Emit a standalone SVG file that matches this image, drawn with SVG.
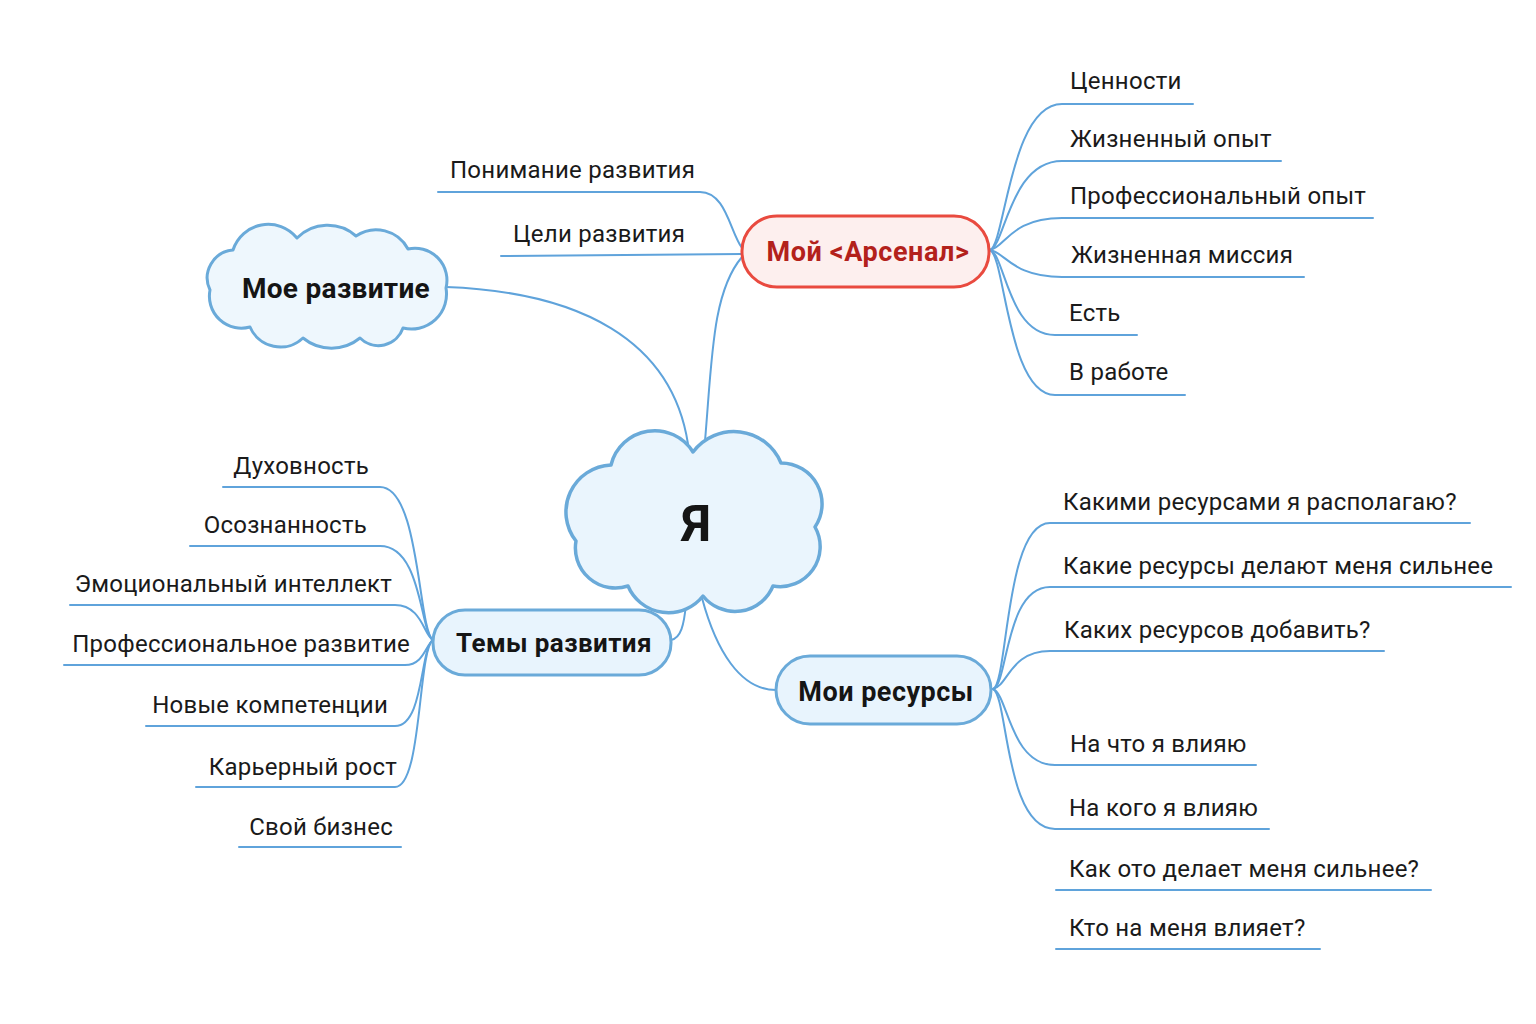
<svg xmlns="http://www.w3.org/2000/svg" width="1536" height="1024" viewBox="0 0 1536 1024">
<style>
.bg{fill:#ffffff}
.cloud{fill:#eaf5fd;stroke:#6aaad9;stroke-width:3.5;stroke-linejoin:round}
.pill{fill:#e8f4fd;stroke:#6aaad9;stroke-width:3}
.red{fill:#fdefee;stroke:#e94a3f;stroke-width:3}
.ln{fill:none;stroke:#5fa3db;stroke-width:2;stroke-linecap:round}
.t{font-family:Roboto,"Liberation Sans",sans-serif;font-size:24px;letter-spacing:0.25px;fill:#1a1a1a}
.b{font-family:Roboto,"Liberation Sans",sans-serif;font-weight:bold;fill:#151515;text-anchor:middle}
.e{text-anchor:end}
</style>
<rect class="bg" x="0" y="0" width="1536" height="1024"/>

<g id="connectors">
  <path class="ln" d="M446,287 C580,292 672,340 688,444"/>
  <path class="ln" d="M705,441 C712,360 712,292 742,257"/>
  <path class="ln" d="M686,604 C684,625 681,638 671,640"/>
  <path class="ln" d="M702,598 C716,650 740,690 776,690"/>
  <path class="ln" d="M438,192 L700,192 C726,192 730,232 742,248"/>
  <path class="ln" d="M501,256 L742,254"/>
  <path class="ln" d="M990,250 C1005,245 1010,104 1062,104 L1193,104"/>
  <path class="ln" d="M990,250 C1005,246 1010,161 1062,161 L1281,161"/>
  <path class="ln" d="M990,250 C1005,248 1010,218 1062,218 L1373,218"/>
  <path class="ln" d="M990,250 C1005,252 1012,277 1062,277 L1304,277"/>
  <path class="ln" d="M990,250 C1005,254 1008,335 1055,335 L1137,335"/>
  <path class="ln" d="M990,250 C1005,256 1008,395 1055,395 L1185,395"/>
  <path class="ln" d="M993,689 C1008,684 1005,523 1050,523 L1470,523"/>
  <path class="ln" d="M993,689 C1008,685 1005,587 1050,587 L1511,587"/>
  <path class="ln" d="M993,689 C1008,686 1010,651 1050,651 L1384,651"/>
  <path class="ln" d="M993,689 C1008,694 1010,765 1055,765 L1256,765"/>
  <path class="ln" d="M993,689 C1008,696 1005,829 1055,829 L1269,829"/>
  <path class="ln" d="M1056,890 L1431,890"/>
  <path class="ln" d="M1056,949 L1320,949"/>
  <path class="ln" d="M433,640 C418,630 420,487 380,487 L223,487"/>
  <path class="ln" d="M433,640 C420,632 422,546 380,546 L190,546"/>
  <path class="ln" d="M433,640 C424,636 422,605 395,605 L70,605"/>
  <path class="ln" d="M433,640 C426,644 424,665 405,665 L64,665"/>
  <path class="ln" d="M433,640 C420,648 424,726 395,726 L146,726"/>
  <path class="ln" d="M433,640 C418,650 422,787 395,787 L196,787"/>
  <path class="ln" d="M239,847 L401,847"/>
</g>

<g id="node-me">
  <path class="cloud" d="M693,452 A45,45 0 0 0 611,465 A47,47 0 0 0 576,541 A40,40 0 0 0 628,586 A44,44 0 0 0 703,596 A41,41 0 0 0 773,586 A40,40 0 0 0 815,527 A41,41 0 0 0 781,463 A51,51 0 0 0 693,452 Z"/>
  <text class="b" x="696" y="541" font-size="50">Я</text>
</g>

<g id="node-my-development">
  <path class="cloud" style="fill:#eef7fd;stroke-width:3" d="M233,250 A37,37 0 0 1 297,238 A43,43 0 0 1 356,236 A36,36 0 0 1 408,249 A32,32 0 0 1 446,288 A35,35 0 0 1 403,328 A26,26 0 0 1 360,338 A45,45 0 0 1 303,338 A33,33 0 0 1 250,327 A32,32 0 0 1 210,290 A28,28 0 0 1 233,250 Z"/>
  <text class="b" x="336" y="298" font-size="28" style="letter-spacing:0.3px">Мое развитие</text>
</g>

<g id="node-arsenal">
  <rect class="red" x="742" y="216" width="247" height="71" rx="35"/>
  <text class="b" x="868" y="261" font-size="27" style="fill:#b3211b;letter-spacing:0.6px">Мой &lt;Арсенал&gt;</text>
</g>

<g id="node-themes">
  <rect class="pill" x="433" y="610" width="238" height="65" rx="32"/>
  <text class="b" x="554" y="652" font-size="26" style="letter-spacing:0.4px">Темы развития</text>
</g>

<g id="node-resources">
  <rect class="pill" x="776" y="656" width="215" height="68" rx="34"/>
  <text class="b" x="886" y="701" font-size="27" style="letter-spacing:0.5px">Мои ресурсы</text>
</g>

<g id="arsenal-children">
  <text class="t" x="450" y="178">Понимание развития</text>
  <text class="t" x="513" y="242">Цели развития</text>
  <text class="t" x="1070" y="89">Ценности</text>
  <text class="t" x="1070" y="147">Жизненный опыт</text>
  <text class="t" x="1070" y="204">Профессиональный опыт</text>
  <text class="t" x="1071" y="263">Жизненная миссия</text>
  <text class="t" x="1069" y="321">Есть</text>
  <text class="t" x="1069" y="380">В работе</text>
</g>

<g id="resources-children">
  <text class="t" x="1063" y="510">Какими ресурсами я располагаю?</text>
  <text class="t" x="1063" y="574">Какие ресурсы делают меня сильнее</text>
  <text class="t" x="1064" y="638">Каких ресурсов добавить?</text>
  <text class="t" x="1070" y="752">На что я влияю</text>
  <text class="t" x="1069" y="816">На кого я влияю</text>
  <text class="t" x="1069" y="877">Как ото делает меня сильнее?</text>
  <text class="t" x="1069" y="936">Кто на меня влияет?</text>
</g>

<g id="themes-children">
  <text class="t e" x="369" y="474">Духовность</text>
  <text class="t e" x="367" y="533">Осознанность</text>
  <text class="t e" x="392" y="592">Эмоциональный интеллект</text>
  <text class="t e" x="410" y="652">Профессиональное развитие</text>
  <text class="t e" x="388" y="713">Новые компетенции</text>
  <text class="t e" x="397" y="775">Карьерный рост</text>
  <text class="t e" x="393" y="835">Свой бизнес</text>
</g>
</svg>
